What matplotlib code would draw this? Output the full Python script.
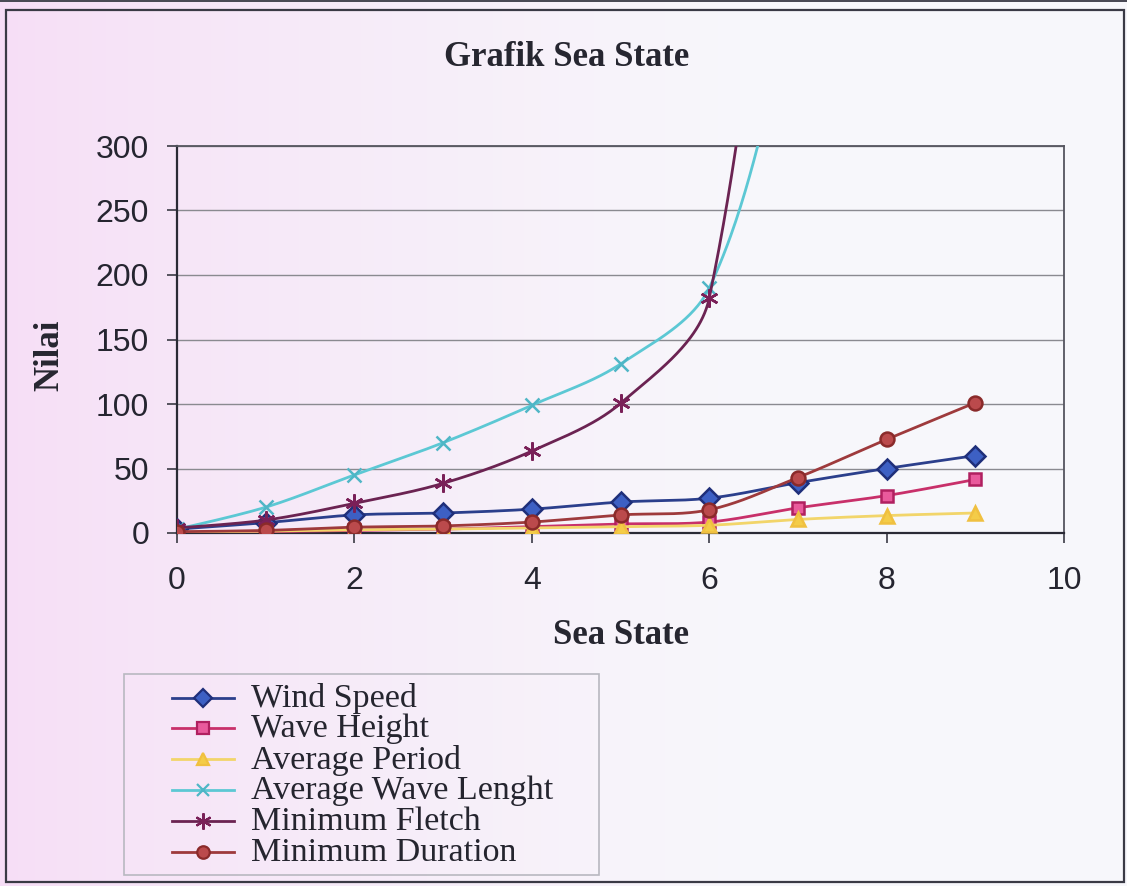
import numpy as np
import matplotlib
matplotlib.use("Agg")
import matplotlib.pyplot as plt
from matplotlib.lines import Line2D
from matplotlib.patches import Rectangle

# ---- data -----------------------------------------------------------------
sea_state = [0, 1, 2, 3, 4, 5, 6, 7, 8, 9]
wind_speed = [3, 8, 14, 15.5, 18.5, 24, 27, 39, 50, 60]
wave_height = [0.5, 1, 2, 3, 5, 7, 8.5, 19.5, 29, 41.5]
average_period = [0.5, 1.5, 2.5, 3, 4, 5, 6, 10.5, 13.5, 15.5]
average_wave_length = [3, 20, 45, 70, 99, 131, 190, 420, 650, 900]
minimum_fletch = [4, 10, 23, 38.5, 63.5, 100.5, 182, 760, 1500, 2300]
minimum_duration = [1, 2, 4.5, 5.5, 8.5, 14, 18, 43, 72.5, 101]

series_names = ["Wind Speed", "Wave Height", "Average Period",
                "Average Wave Lenght", "Minimum Fletch", "Minimum Duration"]
x_ticks = [0, 2, 4, 6, 8, 10]
y_ticks = [0, 50, 100, 150, 200, 250, 300]

W, H = 1127, 886
X_LIM = (0, 10)
Y_LIM = (0, 300)
AX_PX = (177, 146, 1064, 533)   # left, top, right, bottom in pixels


def fx(px):
    return px / W


def fy(py):
    return 1 - py / H


def smooth(xs, ys, n=60):
    """Bezier smoothing with handles scaled by neighbouring segment lengths
    (measured on screen), as spreadsheet 'smoothed line' charts do."""
    sx = (AX_PX[2] - AX_PX[0]) / (X_LIM[1] - X_LIM[0])
    sy = (AX_PX[3] - AX_PX[1]) / (Y_LIM[1] - Y_LIM[0])
    p = np.column_stack([np.asarray(xs, float) * sx, np.asarray(ys, float) * sy])
    k = len(p)
    before = p.copy()
    after = p.copy()
    for i in range(1, k - 1):
        d = p[i + 1] - p[i - 1]
        l0 = np.hypot(*(p[i] - p[i - 1]))
        l1 = np.hypot(*(p[i + 1] - p[i]))
        s = l0 + l1
        before[i] = p[i] - d * (l0 / s) / 3
        after[i] = p[i] + d * (l1 / s) / 3
    t = np.linspace(0, 1, n)[:, None]
    pts = []
    for i in range(k - 1):
        b = ((1 - t) ** 3 * p[i] + 3 * (1 - t) ** 2 * t * after[i]
             + 3 * (1 - t) * t ** 2 * before[i + 1] + t ** 3 * p[i + 1])
        pts.append(b)
    pts = np.vstack(pts)
    return pts[:, 0] / sx, pts[:, 1] / sy


fig = plt.figure(figsize=(W / 100, H / 100), dpi=100)

# soft pink-to-white page background
bg = fig.add_axes([0, 0, 1, 1], zorder=-10)
grad = np.linspace(0, 1, 256)
left = np.array([0.965, 0.87, 0.965])
right = np.array([0.97, 0.97, 0.985])
w = np.clip(grad * 1.5, 0, 1)[None, :, None] ** 0.8
img = left[None, None, :] * (1 - w) + right[None, None, :] * w
bg.imshow(np.repeat(img, 2, axis=0), aspect="auto", extent=[0, 1, 0, 1])
bg.set_axis_off()

# outer frame
fig.patches.append(Rectangle((fx(6), fy(882)), fx(1124) - fx(6), fy(10) - fy(882),
                             transform=fig.transFigure, fill=False,
                             edgecolor="#3a3a45", linewidth=1.6, zorder=5))
fig.patches.append(Rectangle((0, fy(2)), 1, fy(0) - fy(2),
                             transform=fig.transFigure, facecolor="#4a4a55",
                             edgecolor="none", zorder=5))

ax = fig.add_axes([fx(AX_PX[0]), fy(AX_PX[3]),
                   fx(AX_PX[2]) - fx(AX_PX[0]), fy(AX_PX[1]) - fy(AX_PX[3])])
ax.set_facecolor("none")
ax.set_xlim(*X_LIM)
ax.set_ylim(*Y_LIM)
ax.set_xticks(x_ticks)
ax.set_yticks(y_ticks)
ax.yaxis.grid(True, color="#8a8a90", linewidth=1.0)
ax.set_axisbelow(True)
for side in ["left", "bottom"]:
    ax.spines[side].set_color("#2a2a35")
    ax.spines[side].set_linewidth(1.6)
for side in ["top", "right"]:
    ax.spines[side].set_color("#55555f")
    ax.spines[side].set_linewidth(1.3)

ax.tick_params(axis="both", direction="out", length=7, width=1.2, colors="#3a3a45")
ax.tick_params(axis="y", pad=13)
ax.tick_params(axis="x", pad=17)
for lab in ax.get_xticklabels() + ax.get_yticklabels():
    lab.set_fontfamily("Liberation Sans")
    lab.set_fontsize(23)
    lab.set_color("#252530")

styles = [
    dict(color="#2b3f8c", marker="D", mfc="#3d60c4", mec="#1f2f7a", ms=10),
    dict(color="#c8306a", marker="s", mfc="#e95a9c", mec="#b02060", ms=9),
    dict(color="#f2d56a", marker="^", mfc="#f4cc48", mec="#f0c040", ms=10),
    dict(color="#5cc8d4", marker="x", mfc="#4fb6c6", mec="#4fb6c6", ms=10),
    dict(color="#6b2352", marker=(6, 2, 0), mfc="#7a2058", mec="#7a2058", ms=13),
    dict(color="#9e3a3c", marker="o", mfc="#bb4a4c", mec="#8a2a2a", ms=10),
]
all_series = [wind_speed, wave_height, average_period,
              average_wave_length, minimum_fletch, minimum_duration]

for i, (vals, st) in enumerate(zip(all_series, styles)):
    sx, sy = smooth(sea_state, vals)
    ax.plot(sx, sy, color=st["color"], linewidth=2.0, zorder=3 + i)
    ax.plot(sea_state, vals, linestyle="none", marker=st["marker"],
            markerfacecolor=st["mfc"], markeredgecolor=st["mec"],
            markersize=st["ms"], markeredgewidth=1.8, zorder=3 + i)

serif_bold = dict(family="Liberation Serif", weight="bold", color="#262630")
fig.text(fx(567), fy(58), "Grafik Sea State", size=25, ha="center", va="center", **serif_bold)
fig.text(fx(621), fy(636), "Sea State", size=25, ha="center", va="center", **serif_bold)
fig.text(fx(50), fy(355), "Nilai", size=25, ha="center", va="center",
         rotation=90, **serif_bold)

# legend box
fig.patches.append(Rectangle((fx(124), fy(875)), fx(599) - fx(124), fy(674) - fy(875),
                             transform=fig.transFigure, fill=False,
                             edgecolor="#b8b8c0", linewidth=1.2, zorder=5))
rows = [698, 728, 759, 790, 821, 852]
for name, st, ry in zip(series_names, styles, rows):
    fig.add_artist(Line2D([fx(172), fx(234)], [fy(ry), fy(ry)],
                          transform=fig.transFigure, color=st["color"],
                          linewidth=2.0, marker=None))
    fig.add_artist(Line2D([fx(203)], [fy(ry)], transform=fig.transFigure,
                          linestyle="none", marker=st["marker"],
                          markerfacecolor=st["mfc"], markeredgecolor=st["mec"],
                          markersize=st["ms"] * 0.9, markeredgewidth=1.6))
    fig.text(fx(251), fy(ry + 1), name, family="Liberation Serif", size=24.5,
             color="#25252f", ha="left", va="center")

fig.savefig("out.png", dpi=100)
